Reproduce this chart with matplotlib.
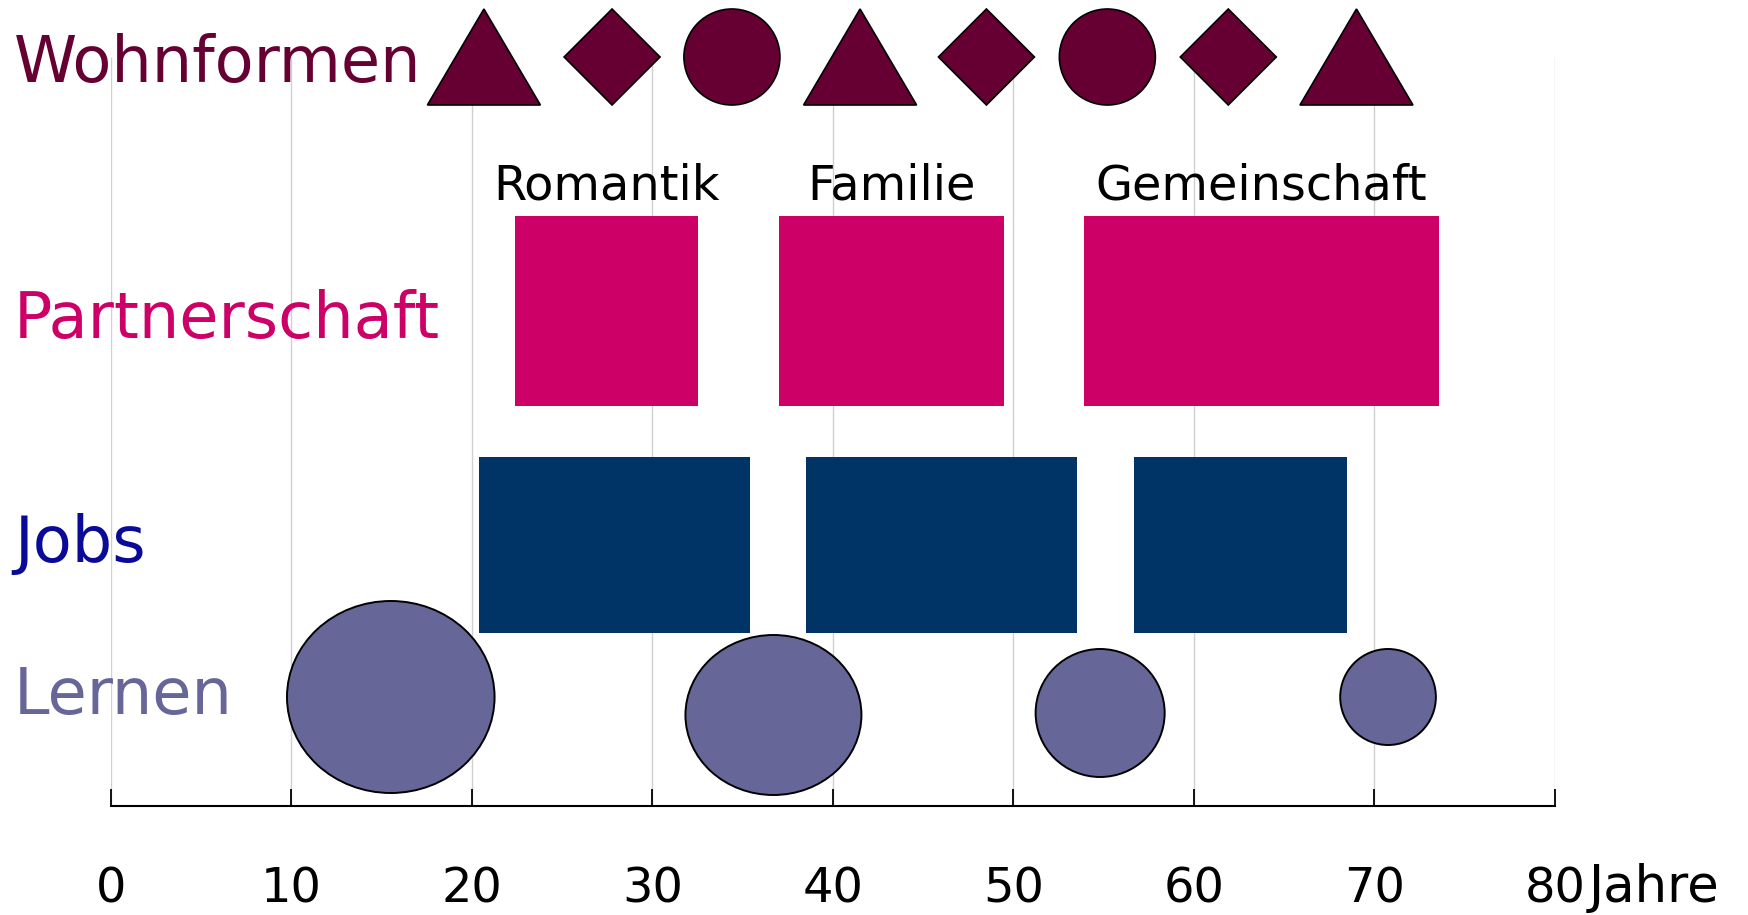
import matplotlib
matplotlib.use("Agg")
import matplotlib.pyplot as plt
from matplotlib.patches import Rectangle, Ellipse, Polygon

# Lebensphasen-Daten (Alter in Jahren)
wohn_ages = [20.66, 27.76, 34.4, 41.5, 48.5, 55.2, 61.9, 69.0]
wohn_shapes = ["triangle", "diamond", "circle", "triangle",
               "diamond", "circle", "diamond", "triangle"]

partner_labels = ["Romantik", "Familie", "Gemeinschaft"]
partner_start = [22.4, 37.0, 53.9]
partner_end = [32.5, 49.5, 73.6]

jobs_start = [20.4, 38.5, 56.7]
jobs_end = [35.4, 53.5, 68.5]

lernen_center = [15.5, 36.7, 54.8, 70.75]
lernen_span = [11.5, 9.75, 7.15, 5.3]

row_labels = ["Wohnformen", "Partnerschaft", "Jobs", "Lernen"]
x_ticks = [0, 10, 20, 30, 40, 50, 60, 70, 80]

# colours
c_wohn = "#660033"
c_partner = "#CC0066"
c_jobs = "#003366"
c_jobs_txt = "#0A0A99"
c_lernen = "#666699"

W, H = 1749, 915
fig = plt.figure(figsize=(W / 100, H / 100), dpi=100)
ax_y0 = 806  # pixel row of the time axis
ax = fig.add_axes([111 / W, (H - ax_y0) / H, 1444 / W, ax_y0 / H])
ax.set_xlim(0, 80)
ax.set_ylim(ax_y0, 0)  # y in pixel rows from the top

for s in ["top", "left", "right"]:
    ax.spines[s].set_visible(False)
ax.spines["bottom"].set_linewidth(1.5)
ax.set_yticks([])
ax.set_xticks(x_ticks)
ax.set_xticklabels([str(t) for t in x_ticks])
ax.tick_params(axis="x", direction="in", length=12.2, width=1.3,
               pad=43, labelsize=34.5)

# gridlines
ax.vlines(x_ticks, 57, ax_y0, color="#d0d0d0", lw=1, zorder=0)

# Wohnformen markers
mk_top, mk_bot = 9, 105
mk_mid = (mk_top + mk_bot) / 2
tri_w = 113 / 18.05
dia_w = 96 / 18.05
for age, shape in zip(wohn_ages, wohn_shapes):
    if shape == "triangle":
        pts = [(age - tri_w / 2, mk_bot), (age, mk_top), (age + tri_w / 2, mk_bot)]
        p = Polygon(pts, closed=True)
    elif shape == "diamond":
        pts = [(age - dia_w / 2, mk_mid), (age, mk_top),
               (age + dia_w / 2, mk_mid), (age, mk_bot)]
        p = Polygon(pts, closed=True)
    else:
        p = Ellipse((age, mk_mid), dia_w, mk_bot - mk_top)
    p.set_facecolor(c_wohn)
    p.set_edgecolor("black")
    p.set_linewidth(1.2)
    p.set_zorder(3)
    ax.add_patch(p)

# Partnerschaft bars + labels
for lab, a, b in zip(partner_labels, partner_start, partner_end):
    ax.add_patch(Rectangle((a, 216), b - a, 190, facecolor=c_partner,
                           edgecolor="none", zorder=2))
    ax.text((a + b) / 2, 199, lab, ha="center", va="baseline",
            fontsize=34.5, color="black")

# Jobs bars
for a, b in zip(jobs_start, jobs_end):
    ax.add_patch(Rectangle((a, 457), b - a, 176, facecolor=c_jobs,
                           edgecolor="none", zorder=2))

# Lernen ellipses
lernen_h = [192, 160, 128, 96]
lernen_y = [697, 715, 713, 697]
for cx, sp, hh, cy in zip(lernen_center, lernen_span, lernen_h, lernen_y):
    ax.add_patch(Ellipse((cx, cy), sp, hh, facecolor=c_lernen,
                         edgecolor="black", lw=1.4, zorder=3))

# row labels
row_colors = [c_wohn, c_partner, c_jobs_txt, c_lernen]
row_base = [82, 338, 562, 714]
for lab, col, yb in zip(row_labels, row_colors, row_base):
    fig.text(14 / W, 1 - yb / H, lab, ha="left", va="baseline",
             fontsize=46, color=col)

ax.annotate("Jahre", xy=(80, 0), xycoords=("data", "axes fraction"),
            xytext=(34, -96), textcoords="offset pixels",
            ha="left", va="baseline", fontsize=37, annotation_clip=False)

fig.savefig("out.png", dpi=100)
